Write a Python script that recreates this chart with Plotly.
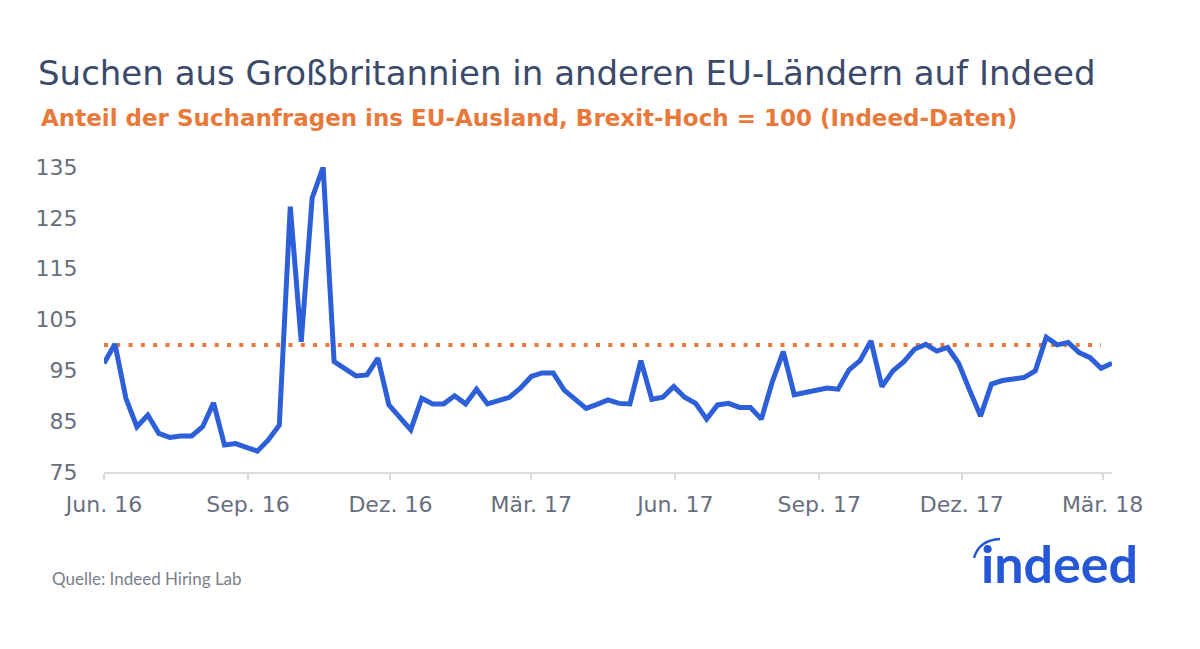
import pandas as pd
import plotly.graph_objects as go

# Wöchentliche Werte (Brexit-Hoch = 100)
werte = [
    96.4, 100.2, 89.5, 83.9, 86.2, 82.6, 81.8, 82.1, 82.1, 83.9,
    88.6, 80.3, 80.6, 79.8, 79.1, 81.3, 84.2, 127.2, 100.6, 128.9,
    135.0, 96.7, 95.2, 93.9, 94.1, 97.4, 88.2, 85.7, 83.3, 89.5,
    88.4, 88.4, 90.0, 88.4, 91.3, 88.4, 89.0, 89.7, 91.5, 93.8,
    94.5, 94.5, 91.1, 89.2, 87.5, 88.3, 89.2, 88.5, 88.4, 96.9,
    89.3, 89.7, 91.8, 89.7, 88.5, 85.4, 88.2, 88.5, 87.7, 87.7,
    85.4, 92.8, 98.7, 90.2, 90.6, 90.9, 91.5, 91.3, 95.1, 96.9,
    100.8, 91.8, 94.9, 96.7, 99.2, 100.1, 98.8, 99.5, 96.4, 91.1,
    86.0, 92.3, 93.0, 93.3, 93.6, 94.9, 101.5, 100.0, 100.5, 98.5,
    97.5, 95.4, 96.4,
]
daten = pd.date_range("2016-06-01", periods=len(werte), freq="7D")

# Referenzlinie Brexit-Hoch, endet im März 2018
brexit_hoch = 100
referenz_daten = daten[:92]

tick_daten = ["2016-06-01", "2016-09-01", "2016-12-01", "2017-03-01",
              "2017-06-01", "2017-09-01", "2017-12-01", "2018-03-01"]
tick_texte = ["Jun. 16", "Sep. 16", "Dez. 16", "Mär. 17",
              "Jun. 17", "Sep. 17", "Dez. 17", "Mär. 18"]
y_ticks = [75, 85, 95, 105, 115, 125, 135]

BLAU = "#2d60d8"
ORANGE = "#e8793a"
GRAU = "#676e7e"
SCHRIFT = "DejaVu Sans, sans-serif"

# Seite hat 8px Rand -> Figur etwas kleiner, Plotfläche bei x 104-1112, y 167-472
W, H = 1192, 641
L, T, R, B = 96, 159, 88, 177
PW, PH = W - L - R, H - T - B


def px(x):
    return (x - 8 - L) / PW


def py(y):
    return (H - B - (y - 8)) / PH


fig = go.Figure()

fig.add_trace(go.Scatter(
    x=referenz_daten,
    y=[brexit_hoch] * len(referenz_daten),
    mode="lines",
    line=dict(color=ORANGE, width=4, dash="4px,8.3px"),
    hoverinfo="skip",
    showlegend=False,
))

fig.add_trace(go.Scatter(
    x=daten,
    y=werte,
    mode="lines",
    line=dict(color=BLAU, width=5),
    showlegend=False,
))

fig.update_layout(
    width=W,
    height=H,
    margin=dict(l=L, r=R, t=T, b=B),
    paper_bgcolor="white",
    plot_bgcolor="white",
    font=dict(family=SCHRIFT, color=GRAU),
    title=dict(
        text="Suchen aus Großbritannien in anderen EU-Ländern auf Indeed",
        x=(38 - 8) / W, xanchor="left",
        y=1 - (73 - 8) / H, yanchor="middle",
        font=dict(family=SCHRIFT, size=34, color="#3b4a6b"),
    ),
)

fig.add_annotation(
    text="<b>Anteil der Suchanfragen ins EU-Ausland, Brexit-Hoch = 100 (Indeed-Daten)</b>",
    xref="paper", yref="paper",
    x=px(39), y=py(118),
    xanchor="left", yanchor="middle", showarrow=False,
    font=dict(family=SCHRIFT, size=23, color=ORANGE),
)

fig.add_annotation(
    text="Quelle: Indeed Hiring Lab",
    xref="paper", yref="paper",
    x=px(50), y=py(578),
    xanchor="left", yanchor="middle", showarrow=False,
    font=dict(family="Lato, sans-serif", size=17, color="#7a7f8a"),
)

# Logo als Text
fig.add_annotation(
    text="<b>indeed</b>",
    xref="paper", yref="paper",
    x=px(1140), y=py(563),
    xanchor="right", yanchor="middle", showarrow=False,
    font=dict(family="Lato, sans-serif", size=52, color="#2557d6"),
)
fig.add_shape(
    type="path",
    xref="paper", yref="paper",
    path="M {x0},{y0} Q {x1},{y1} {x2},{y2}".format(
        x0=px(974), y0=py(558),
        x1=px(979), y1=py(540),
        x2=px(1000), y2=py(539),
    ),
    line=dict(color="#2557d6", width=2.5),
)

fig.update_xaxes(
    range=[daten[0], daten[-1]],
    tickvals=tick_daten,
    ticktext=tick_texte,
    ticks="outside", ticklen=6, tickcolor="#d9d9d9", tickwidth=2,
    ticklabelstandoff=6,
    showline=True, linecolor="#dcdcdc", linewidth=2,
    showgrid=False, zeroline=False,
    tickfont=dict(size=22, color=GRAU),
)
fig.update_yaxes(
    range=[75, 135],
    tickvals=y_ticks,
    ticks="outside", ticklen=21, tickcolor="rgba(0,0,0,0)",
    showgrid=False, zeroline=False, showline=False,
    tickfont=dict(size=22, color=GRAU),
)

fig.write_html("out.html")
